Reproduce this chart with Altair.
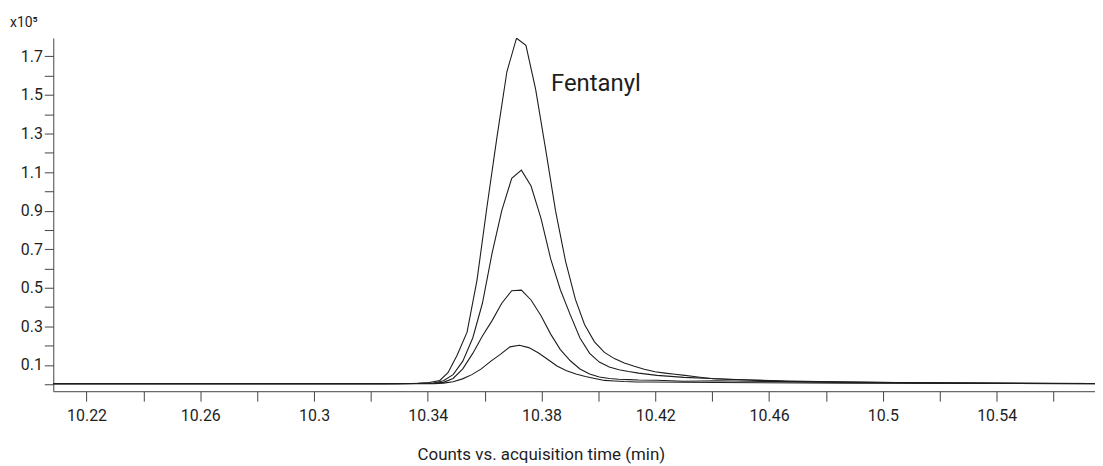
import pandas as pd
import altair as alt

# Fentanyl MRM chromatogram - 4 transitions, counts x10^5 vs acquisition time

# trace A (largest)
time_a = [10.2083, 10.30, 10.325, 10.3366, 10.3405, 10.3442, 10.3471, 10.3503, 10.3538,
          10.3573, 10.3608, 10.3643, 10.3678, 10.3712, 10.3745, 10.3779, 10.3814, 10.3849,
          10.3884, 10.3919, 10.3951, 10.3986, 10.4021, 10.4056, 10.4091, 10.4126, 10.4161,
          10.4199, 10.4234, 10.4269, 10.4304, 10.4336, 10.4371, 10.4406, 10.4469, 10.4532,
          10.4651, 10.4812, 10.5046, 10.5466, 10.5746]
counts_a = [0.003, 0.003, 0.003, 0.005, 0.009, 0.02, 0.06, 0.15, 0.27,
            0.54, 0.92, 1.28, 1.62, 1.794, 1.757, 1.53, 1.22, 0.90,
            0.64, 0.44, 0.31, 0.22, 0.165, 0.133, 0.11, 0.093, 0.078,
            0.065, 0.058, 0.052, 0.046, 0.04, 0.034, 0.029, 0.025, 0.022,
            0.015, 0.012, 0.009, 0.005, 0.004]

# traces B and C share the same scan times
time_bc = [10.2083, 10.33, 10.3420, 10.3455, 10.3489, 10.3523, 10.3558, 10.3592, 10.3626,
           10.3660, 10.3695, 10.3729, 10.3763, 10.3798, 10.3832, 10.3866, 10.3901, 10.3935,
           10.3969, 10.4003, 10.4038, 10.4072, 10.4106, 10.4141, 10.4206, 10.4301, 10.4416,
           10.4532, 10.4672, 10.4882, 10.5221, 10.5746]
counts_b = [0.003, 0.003, 0.006, 0.018, 0.05, 0.12, 0.24, 0.42, 0.68,
            0.90, 1.068, 1.11, 1.028, 0.86, 0.65, 0.49, 0.36, 0.24,
            0.16, 0.115, 0.09, 0.075, 0.066, 0.058, 0.046, 0.036, 0.029,
            0.022, 0.017, 0.012, 0.007, 0.004]
counts_c = [0.003, 0.003, 0.005, 0.01, 0.03, 0.08, 0.16, 0.25, 0.33,
            0.42, 0.485, 0.488, 0.437, 0.355, 0.26, 0.18, 0.122, 0.079,
            0.053, 0.038, 0.03, 0.026, 0.024, 0.022, 0.021, 0.016, 0.018,
            0.016, 0.013, 0.01, 0.006, 0.003]

# trace D (smallest)
time_d = [10.2083, 10.33, 10.3422, 10.3455, 10.3489, 10.3522, 10.3555, 10.3588, 10.3622,
          10.3655, 10.3689, 10.3722, 10.3755, 10.3788, 10.3821, 10.3854, 10.3888, 10.3921,
          10.3954, 10.3987, 10.4021, 10.4056, 10.4091, 10.4136, 10.4182, 10.4416, 10.4871,
          10.5746]
counts_d = [0.003, 0.003, 0.003, 0.006, 0.013, 0.028, 0.05, 0.08, 0.12,
            0.155, 0.194, 0.202, 0.19, 0.163, 0.13, 0.095, 0.07, 0.053,
            0.04, 0.03, 0.02, 0.017, 0.014, 0.012, 0.012, 0.009, 0.006,
            0.003]

x_ticks = [10.22, 10.24, 10.26, 10.28, 10.3, 10.32, 10.34, 10.36, 10.38, 10.4,
           10.42, 10.44, 10.46, 10.48, 10.5, 10.52, 10.54, 10.56]
y_ticks = [0.0, 0.1, 0.2, 0.3, 0.4, 0.5, 0.6, 0.7, 0.8, 0.9,
           1.0, 1.1, 1.2, 1.3, 1.4, 1.5, 1.6, 1.7]

compound = "Fentanyl"
label_time = [10.3833]
label_count = [1.522]

# ----- long table -----
traces = [("A", time_a, counts_a), ("B", time_bc, counts_b),
          ("C", time_bc, counts_c), ("D", time_d, counts_d)]
df = pd.concat([pd.DataFrame({"trace": n, "time": t, "counts": c}) for n, t, c in traces],
               ignore_index=True)
label_df = pd.DataFrame({"label": [compound], "time": label_time, "counts": label_count})

FONT = "Roboto"
INK = "#1e1e1e"

x_scale = alt.Scale(domain=[10.2083, 10.5746], nice=False, zero=False)
y_scale = alt.Scale(domain=[-0.036, 1.795], nice=False, zero=False)

x_axis = alt.Axis(
    values=x_ticks, tickCount=40,
    labelExpr="abs(round((datum.value - 10.22) / 0.02)) % 2 == 0 ? format(datum.value, '.2~f') : ''",
    labelOverlap=False,
    tickSize=10, labelPadding=6, labelFont=FONT, labelFontSize=16, labelColor=INK,
    domainColor="#444", tickColor="#444", grid=False,
    title="Counts vs. acquisition time (min)", titleFont=FONT, titleFontSize=17,
    titleFontWeight="normal", titleColor=INK, titleAlign="center",
    titleX=490, titleY=69, titleBaseline="alphabetic",
)
y_axis = alt.Axis(
    values=y_ticks, tickCount=40,
    labelExpr="round(datum.value * 10) % 2 == 1 ? format(datum.value, '.1f') : ''",
    labelOverlap=False,
    tickSize=9, labelPadding=2, labelFont=FONT, labelFontSize=16, labelColor=INK,
    domainColor="#444", tickColor="#444", grid=False,
    title="x10⁵", titleFont=FONT, titleFontSize=14, titleFontWeight="normal",
    titleColor=INK, titleAngle=0, titleAlign="left", titleBaseline="alphabetic",
    titleX=-44, titleY=-12,
)

lines = alt.Chart(df).mark_line(color=INK, strokeWidth=1.1, clip=True).encode(
    x=alt.X("time:Q", scale=x_scale, axis=x_axis),
    y=alt.Y("counts:Q", scale=y_scale, axis=y_axis),
    detail="trace:N",
    order="time:Q",
)

label = alt.Chart(label_df).mark_text(
    align="left", baseline="alphabetic", font=FONT, fontSize=24, color=INK
).encode(
    x=alt.X("time:Q", scale=x_scale),
    y=alt.Y("counts:Q", scale=y_scale),
    text="label:N",
)

chart = (lines + label).properties(
    width=1047, height=355,
    autosize=alt.AutoSizeParams(type="none"),
    padding={"left": 45.5, "top": 29, "right": 0, "bottom": 74},
    background="white",
).configure_view(stroke=None)

chart.save("out.html", embed_options={"renderer": "svg", "actions": False})
